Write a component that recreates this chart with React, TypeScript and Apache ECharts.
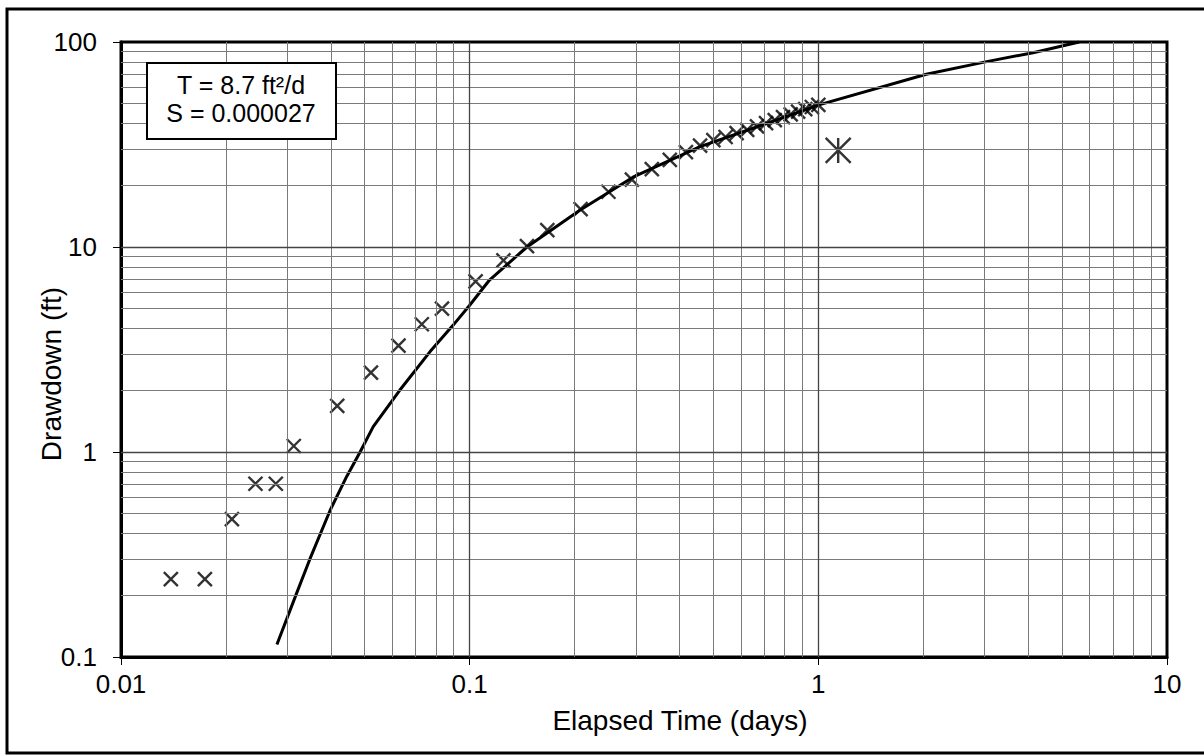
import React, { useEffect, useRef } from "react";
import * as echarts from "echarts";

// Observed drawdown (elapsed time in days, drawdown in ft)
const obsTime = [
  0.0139, 0.0174, 0.0208, 0.0243, 0.0278, 0.0313, 0.0417, 0.0521, 0.0625, 0.0729,
  0.0833, 0.104, 0.125, 0.146, 0.167, 0.208, 0.25, 0.292, 0.333, 0.375, 0.417,
  0.458, 0.5, 0.542, 0.583, 0.625, 0.667, 0.708, 0.75, 0.792, 0.833, 0.875, 0.917,
  0.958, 1.0,
];
const obsDrawdown = [
  0.24, 0.24, 0.47, 0.7, 0.7, 1.07, 1.68, 2.44, 3.3, 4.2,
  5.0, 6.8, 8.6, 10.1, 12.1, 15.3, 18.6, 21.3, 24.0, 26.6, 29.0,
  31.2, 33.2, 34.4, 35.9, 37.3, 38.8, 40.2, 41.6, 43.0, 44.4, 45.7, 47.0,
  48.2, 49.4,
];

// Outlier observation (asterisk)
const outlierTime = [1.14];
const outlierDrawdown = [29.6];

// Theis type-curve fit (as drawn)
const fitTime = [
  0.028, 0.0319, 0.0348, 0.0398, 0.0444, 0.0485, 0.0529, 0.063, 0.077,
  0.0897, 0.1, 0.114, 0.146, 0.207, 0.294, 0.458, 0.711, 1.01, 2.04, 3.04, 4.13, 5.6,
];
const fitDrawdown = [
  0.115, 0.205, 0.3, 0.52, 0.76, 1.0, 1.33, 2.0, 3.09,
  4.16, 5.2, 6.9, 10.0, 15.1, 21.9, 30.9, 40.1, 49.5, 69.6, 80.2, 88.7, 100,
];

const xDecades = [0.01, 0.1, 1];
const yDecades = [0.1, 1, 10];
const minorSteps = [2, 3, 4, 5, 6, 7, 8, 9];

const xTitle = "Elapsed Time (days)";
const yTitle = "Drawdown (ft)";
const annotationLines = ["T = 8.7 ft\u00B2/d", "S = 0.000027"];

const FONT = "'Liberation Sans', Arial, Helvetica, sans-serif";

function fmt(v: number) {
  return String(+v.toPrecision(3));
}

export default function App() {
  const ref = useRef<HTMLDivElement>(null);

  useEffect(() => {
    if (!ref.current) return;
    const chart = echarts.init(ref.current, undefined, { renderer: "svg" });

    const minorX: number[] = [];
    xDecades.forEach((d) => minorSteps.forEach((m) => minorX.push(+(d * m).toPrecision(3))));
    const minorY: number[] = [];
    yDecades.forEach((d) => minorSteps.forEach((m) => minorY.push(+(d * m).toPrecision(3))));
    const majorX = xDecades.slice(1);
    const majorY = yDecades.slice(1);

    const minorStyle = { color: "#7a7a7a", width: 1, type: "solid" };
    const majorStyle = { color: "#444", width: 1.3, type: "solid" };
    const gridLines = [
      ...minorX.map((v) => ({ xAxis: v, lineStyle: minorStyle })),
      ...minorY.map((v) => ({ yAxis: v, lineStyle: minorStyle })),
      ...majorX.map((v) => ({ xAxis: v, lineStyle: majorStyle })),
      ...majorY.map((v) => ({ yAxis: v, lineStyle: majorStyle })),
    ];

    const axisCommon = {
      type: "log",
      logBase: 10,
      axisLine: { show: true, lineStyle: { color: "#000", width: 3 } },
      axisTick: { show: true, inside: false, length: 8, lineStyle: { color: "#000", width: 1 } },
      splitLine: { show: false },
      minorTick: { show: false },
      minorSplitLine: { show: false },
    };

    const option: any = {
      animation: false,
      backgroundColor: "#fff",
      textStyle: { fontFamily: FONT },
      grid: {
        left: 121,
        top: 42,
        right: 37,
        bottom: 98,
        show: true,
        borderColor: "#000",
        borderWidth: 3,
        backgroundColor: "#fff",
        containLabel: false,
      },
      xAxis: {
        ...axisCommon,
        min: 0.01,
        max: 10,
        axisLabel: { fontSize: 26, color: "#000", margin: 14, fontFamily: FONT, formatter: fmt },
      },
      yAxis: {
        ...axisCommon,
        min: 0.1,
        max: 100,
        axisLabel: { fontSize: 26, color: "#000", margin: 24, fontFamily: FONT, formatter: fmt },
      },
      series: [
        {
          type: "line",
          name: "grid",
          data: [],
          silent: true,
          markLine: {
            silent: true,
            symbol: ["none", "none"],
            label: { show: false },
            animation: false,
            data: gridLines,
          },
          z: 1,
        },
        {
          type: "line",
          name: "Theis fit",
          data: fitTime.map((t, i) => [t, fitDrawdown[i]]),
          showSymbol: false,
          symbol: "none",
          smooth: false,
          lineStyle: { color: "#000", width: 3 },
          clip: true,
          z: 3,
        },
        {
          type: "scatter",
          name: "Observed",
          data: obsTime.map((t, i) => [t, obsDrawdown[i]]),
          symbol: "path://M0,0L10,10M10,0L0,10",
          symbolSize: 14,
          itemStyle: { color: "rgba(0,0,0,0)", borderColor: "#000", borderWidth: 2.4 },
          z: 4,
        },
        {
          type: "scatter",
          name: "Outlier",
          data: outlierTime.map((t, i) => [t, outlierDrawdown[i]]),
          symbol: "path://M0,0L10,10M10,0L0,10M5,0L5,10",
          symbolSize: [25, 25],
          itemStyle: { color: "rgba(0,0,0,0)", borderColor: "#000", borderWidth: 2.4 },
          z: 4,
        },
      ],
      graphic: [
        {
          type: "rect",
          shape: { x: 7, y: 9, width: 1210, height: 744 },
          style: { fill: "none", stroke: "#000", lineWidth: 3 },
          silent: true,
          z: 10,
        },
        {
          type: "text",
          x: 680,
          y: 720,
          style: {
            text: xTitle,
            fontSize: 28,
            fontFamily: FONT,
            fill: "#000",
            align: "center",
            verticalAlign: "middle",
          },
          z: 11,
        },
        {
          type: "text",
          x: 51,
          y: 374,
          rotation: Math.PI / 2,
          style: {
            text: yTitle,
            fontSize: 28,
            fontFamily: FONT,
            fill: "#000",
            align: "center",
            verticalAlign: "middle",
          },
          z: 11,
        },
        {
          type: "rect",
          shape: { x: 147, y: 63, width: 189, height: 76 },
          style: { fill: "#fff", stroke: "#000", lineWidth: 2 },
          z: 10,
        },
        {
          type: "text",
          x: 241,
          y: 85,
          style: {
            text: annotationLines[0],
            fontSize: 25,
            fontFamily: FONT,
            fill: "#000",
            align: "center",
            verticalAlign: "middle",
          },
          z: 11,
        },
        {
          type: "text",
          x: 241,
          y: 113,
          style: {
            text: annotationLines[1],
            fontSize: 25,
            fontFamily: FONT,
            fill: "#000",
            align: "center",
            verticalAlign: "middle",
          },
          z: 11,
        },
      ],
    };

    chart.setOption(option);
    return () => chart.dispose();
  }, []);

  return (
    <div
      ref={ref}
      style={{ position: "fixed", left: 0, top: 0, width: 1204, height: 755, background: "#fff" }}
    />
  );
}
